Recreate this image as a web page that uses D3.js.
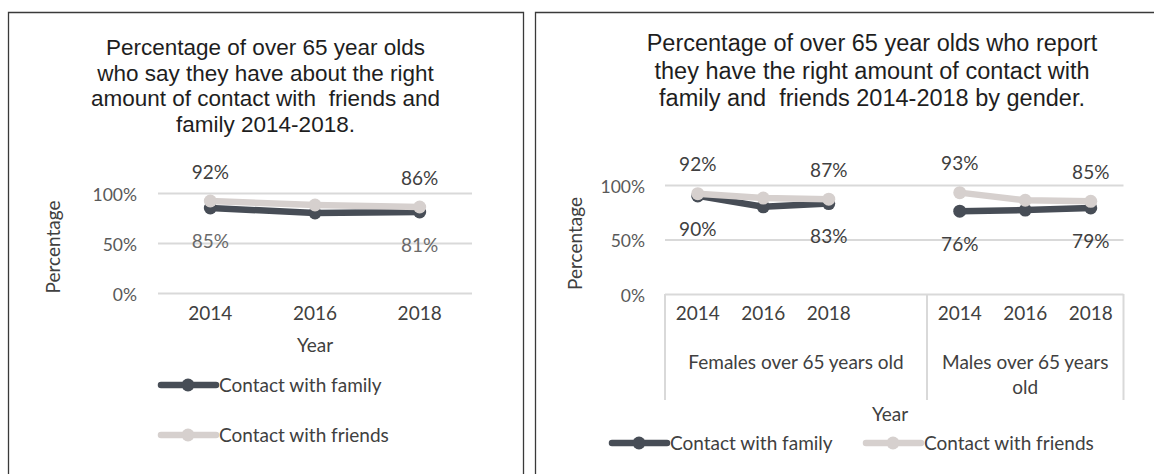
<!DOCTYPE html>
<html>
<head>
<meta charset="utf-8">
<script src="https://cdn.jsdelivr.net/npm/d3@7"></script>
<style>
  html, body { margin: 0; padding: 0; background: #fff; }
  svg { display: block; }
  .title { font-family: "Liberation Sans", Arial, sans-serif; fill: #1e1e1e; }
  .lbl { font-family: Lato, "Open Sans", sans-serif; font-size: 19px; fill: #404040; }
  .tick text { font-family: Lato, "Open Sans", sans-serif; font-size: 17.5px; fill: #595959; }
</style>
</head>
<body>
<svg id="chart" width="1154" height="474"></svg>
<script>
// ---- data ----
const years = ["2014", "2016", "2018"];
const overallFamily = [85, 80, 81];
const overallFriends = [92, 88, 86];

const groups = ["Females over 65 years old", "Males over 65 years old"];
const femaleFamily = [90, 80, 83];
const femaleFriends = [92, 88, 87];
const maleFamily = [76, 77, 79];
const maleFriends = [93, 86, 85];

const yTickValues = [0, 50, 100];
const seriesNames = ["Contact with family", "Contact with friends"];

const leftTitle = [
  "Percentage of over 65 year olds",
  "who say they have about the right",
  "amount of contact with  friends and",
  "family 2014-2018."
];
const rightTitle = [
  "Percentage of over 65 year olds who report",
  "they have the right amount of contact with",
  "family and  friends 2014-2018 by gender."
];

// ---- styles ----
const familyColor = "#474d56";
const friendsColor = "#d6d0ce";
const gridColor = "#d9d9d9";
const lineWidth = 6.5;
const markerR = 6.5;
const pct = v => v + "%";

const svg = d3.select("#chart");

// panel frames
const frame = svg.append("g").attr("fill", "none").attr("stroke", "#3a3a3a").attr("stroke-width", 1.3);
frame.append("path").attr("d", "M8.5,480V12.5H523.5V480");
frame.append("path").attr("d", "M535.5,480V12.5H1160");

function drawTitle(lines, cx, y0, dy, size) {
  const t = svg.append("text").attr("class", "title").attr("text-anchor", "middle")
    .style("font-size", size + "px").style("white-space", "pre");
  lines.forEach((s, i) => {
    t.append("tspan").attr("x", cx).attr("y", y0 + i * dy).text(s);
  });
}

function drawYAxis(y, x0, x1, labelX, titleX) {
  // gridlines
  const grid = svg.append("g").attr("transform", `translate(${x0},0)`)
    .call(d3.axisLeft(y).tickValues(yTickValues).tickSize(-(x1 - x0)).tickFormat(""));
  grid.select(".domain").remove();
  grid.selectAll("line").attr("stroke", gridColor).attr("stroke-width", 2);
  // tick labels
  const ax = svg.append("g").attr("transform", `translate(${labelX},0)`)
    .call(d3.axisLeft(y).tickValues(yTickValues).tickSize(0).tickPadding(0).tickFormat(pct));
  ax.select(".domain").remove();
  ax.selectAll("text").attr("dy", "0.42em");
  // axis title
  svg.append("text").attr("class", "lbl")
    .attr("transform", `translate(${titleX},${(y.range()[0] + y.range()[1]) / 2 + 4}) rotate(-90)`)
    .attr("text-anchor", "middle").attr("dy", "0.35em").text("Percentage");
}

function drawSeries(keys, values, x, y, color) {
  const bw = x.bandwidth();
  const pts = keys.map((k, i) => ({ cx: x(k) + bw / 2, cy: y(values[i]), v: values[i] }));
  svg.append("path").datum(pts)
    .attr("fill", "none").attr("stroke", color).attr("stroke-width", lineWidth)
    .attr("stroke-linejoin", "round").attr("stroke-linecap", "round")
    .attr("d", d3.line().x(d => d.cx).y(d => d.cy));
  svg.append("g").selectAll("circle").data(pts).join("circle")
    .attr("cx", d => d.cx).attr("cy", d => d.cy).attr("r", markerR).attr("fill", color);
  return pts;
}

function drawEndLabels(pts, dy, color) {
  [pts[0], pts[pts.length - 1]].forEach(p => {
    svg.append("text").attr("class", "lbl").attr("text-anchor", "middle")
      .attr("x", p.cx).attr("y", p.cy + dy).attr("dy", "0.35em")
      .style("fill", color).text(pct(p.v));
  });
}

function legendItem(x, yPos, color, label) {
  const g = svg.append("g");
  g.append("line").attr("x1", x).attr("x2", x + 55).attr("y1", yPos).attr("y2", yPos)
    .attr("stroke", color).attr("stroke-width", lineWidth).attr("stroke-linecap", "round");
  g.append("circle").attr("cx", x + 27).attr("cy", yPos).attr("r", markerR).attr("fill", color);
  g.append("text").attr("class", "lbl").attr("x", x + 58).attr("y", yPos).attr("dy", "0.35em").text(label);
}

// ================= left chart: all over 65s =================
drawTitle(leftTitle, 265.5, 55, 25.5, 22.5);

const xL = d3.scaleBand().domain(years).range([158, 472]);
const yL = d3.scaleLinear().domain([0, 100]).range([293, 193]);
drawYAxis(yL, 158, 472, 137, 53);

const xAxL = svg.append("g").attr("transform", "translate(0,293)")
  .call(d3.axisBottom(xL).tickSize(0).tickPadding(20));
xAxL.select(".domain").remove();
xAxL.selectAll("text").attr("dy", "0.35em").style("font-size", "19px").style("fill", "#404040");
svg.append("text").attr("class", "lbl").attr("text-anchor", "middle")
  .attr("x", 315).attr("y", 345).attr("dy", "0.35em").text("Year");

const famL = drawSeries(years, overallFamily, xL, yL, familyColor);
const friL = drawSeries(years, overallFriends, xL, yL, friendsColor);
drawEndLabels(friL, -29, "#404040");
drawEndLabels(famL, 33, "#6a6a6a");

legendItem(161, 385, familyColor, seriesNames[0]);
legendItem(161, 435, friendsColor, seriesNames[1]);

// ================= right chart: by gender =================
drawTitle(rightTitle, 872, 51, 27.5, 23.5);

// Females take four slots (the last left empty), males three
const femaleKeys = years.map(y => "F" + y);
const maleKeys = years.map(y => "M" + y);
const slots = [...femaleKeys, "Fgap", ...maleKeys];
const xR = d3.scaleBand().domain(slots).range([665, 1123.5]);
const yR = d3.scaleLinear().domain([0, 100]).range([294, 185]);
drawYAxis(yR, 665, 1123.5, 645, 575);

// category box below the plot
const bwR = xR.bandwidth();
const boxX = [xR(slots[0]), xR(maleKeys[0]), xR(maleKeys[2]) + bwR];
svg.append("g").selectAll("line").data(boxX).join("line")
  .attr("x1", d => d).attr("x2", d => d).attr("y1", 294).attr("y2", 400)
  .attr("stroke", gridColor).attr("stroke-width", 2);

const xAxR = svg.append("g").attr("transform", "translate(0,294)")
  .call(d3.axisBottom(xR).tickSize(0).tickPadding(19).tickFormat(k => k === "Fgap" ? "" : k.slice(1)));
xAxR.select(".domain").remove();
xAxR.selectAll("text").attr("dy", "0.35em").style("font-size", "19px").style("fill", "#404040");

// group names, wrapped to the width of their group
function wrapLabel(text, cx, yPos, maxW) {
  const t = svg.append("text").attr("class", "lbl").attr("text-anchor", "middle");
  const words = text.split(" ");
  let line = [], lineNo = 0;
  let ts = t.append("tspan").attr("x", cx).attr("y", yPos).attr("dy", "0.35em");
  words.forEach(w => {
    line.push(w);
    ts.text(line.join(" "));
    if (ts.node().getComputedTextLength() > maxW && line.length > 1) {
      line.pop();
      ts.text(line.join(" "));
      line = [w];
      lineNo++;
      ts = t.append("tspan").attr("x", cx).attr("y", yPos + lineNo * 25).attr("dy", "0.35em").text(w);
    }
  });
}
const gStart = [boxX[0], boxX[1]], gEnd = [boxX[1], boxX[2]];
groups.forEach((g, i) => wrapLabel(g, (gStart[i] + gEnd[i]) / 2, 362, gEnd[i] - gStart[i] - 12));

svg.append("text").attr("class", "lbl").attr("text-anchor", "middle")
  .attr("x", 890).attr("y", 414).attr("dy", "0.35em").text("Year");

const famF = drawSeries(femaleKeys, femaleFamily, xR, yR, familyColor);
const famM = drawSeries(maleKeys, maleFamily, xR, yR, familyColor);
const friF = drawSeries(femaleKeys, femaleFriends, xR, yR, friendsColor);
const friM = drawSeries(maleKeys, maleFriends, xR, yR, friendsColor);
[friF, friM].forEach(p => drawEndLabels(p, -29, "#404040"));
[famF, famM].forEach(p => drawEndLabels(p, 33, "#404040"));

legendItem(612, 443, familyColor, seriesNames[0]);
legendItem(866, 443, friendsColor, seriesNames[1]);
</script>
</body>
</html>
